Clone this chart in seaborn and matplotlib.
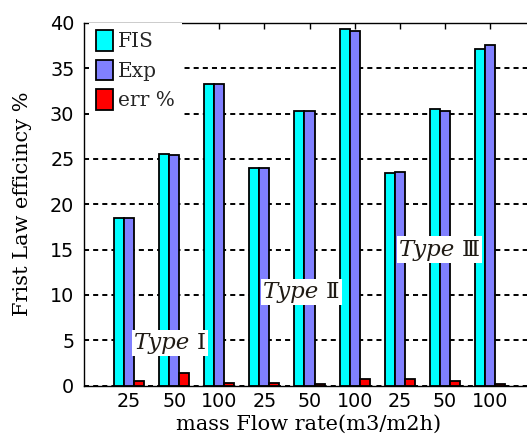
import matplotlib
matplotlib.use("Agg")
import matplotlib.pyplot as plt
import pandas as pd
import seaborn as sns
from matplotlib.offsetbox import TextArea, HPacker, AnnotationBbox

# ---- data -------------------------------------------------------------
collector_types = ["Ⅰ", "Ⅱ", "Ⅲ"]
flow_rates = ["25", "50", "100"]
tick_labels = flow_rates * 3

fis_eff = [18.5, 25.6, 33.3, 24.0, 30.3, 39.3, 23.4, 30.5, 37.1]
exp_eff = [18.5, 25.4, 33.3, 24.0, 30.3, 39.1, 23.6, 30.3, 37.6]
err_pct = [0.45, 1.35, 0.25, 0.25, 0.2, 0.7, 0.7, 0.45, 0.2]

series_names = ["FIS", "Exp", "err %"]
series_colors = ["#00FFFF", "#8080FF", "#FF0000"]

# label anchor for each collector type: (case index, efficiency value)
type_label_pos = [(0.91, 4.7), (3.82, 10.3), (6.88, 15.0)]

cases = [f"{t}-{r}" for t in collector_types for r in flow_rates]
df = pd.DataFrame({
    "case": cases * 3,
    "series": [s for s in series_names for _ in cases],
    "value": fis_eff + exp_eff + err_pct,
})

# ---- figure -----------------------------------------------------------
sns.set_style("white")
plt.rcParams["font.family"] = ["DejaVu Sans"]

W, H = 527, 434
fig = plt.figure(figsize=(W / 100, H / 100), dpi=100)
ax = fig.add_axes([84 / W, 48.5 / H, 451 / W, 362.5 / H])

sns.barplot(data=df, x="case", y="value", hue="series", order=cases,
            hue_order=series_names, palette=series_colors, saturation=1,
            width=0.667, gap=0, edgecolor="black", linewidth=1.3,
            errorbar=None, ax=ax)

ax.set_xlim(-1, 9)
ax.set_ylim(0, 40)
ax.set_yticks(range(0, 41, 5))
ax.set_xticks(range(len(cases)))
ax.set_xticklabels(tick_labels)

ax.set_axisbelow(True)
ax.yaxis.grid(True, color="black", linestyle=(0, (2.6, 2.1)), linewidth=1.4)
ax.xaxis.grid(False)

for sp in ax.spines.values():
    sp.set_color("black")
    sp.set_linewidth(1.0)

ax.tick_params(axis="both", direction="in", top=True, right=True,
               length=4, width=1.0, color="black", labelsize=13.8,
               labelcolor="black")
ax.tick_params(axis="y", pad=7)
ax.tick_params(axis="x", pad=4.5)

ax.set_ylabel("Frist Law efficincy %", family="DejaVu Serif", fontsize=15,
              va="center", color="black")
ax.yaxis.set_label_coords((23 - 84) / 451, 0.5)
ax.set_xlabel("mass Flow rate(m3/m2h)", family="DejaVu Serif", fontsize=15,
              va="baseline", color="black")
ax.xaxis.set_label_coords((308.5 - 84) / 451, (385.5 - 429.5) / 362.5)

# legend in the upper-left corner on a white, borderless box
handles, labels = ax.get_legend_handles_labels()
ax.get_legend().remove()
leg = ax.legend(handles, labels, loc="upper left",
                bbox_to_anchor=(5 / 451, 1), borderaxespad=0,
                frameon=True, facecolor="white", edgecolor="none",
                framealpha=1, fancybox=False,
                prop=dict(family="DejaVu Serif", size=14.5),
                handlelength=0.85, handleheight=1.2, handletextpad=0.25,
                labelspacing=0.42, borderpad=0.35)
for h in leg.legend_handles:
    h.set_edgecolor("black")
    h.set_linewidth(1.3)

# collector type annotations
txt_color = "#1f1a14"
for t, (xpos, ypos) in zip(collector_types, type_label_pos):
    word = TextArea("Type", textprops=dict(family="DejaVu Serif",
                                           style="italic", size=16.5,
                                           color=txt_color))
    num = TextArea(t, textprops=dict(family=["DejaVu Serif", "Noto Sans CJK SC"],
                                     size=16.5, color=txt_color))
    box = HPacker(children=[word, num], align="baseline", pad=0, sep=5)
    ab = AnnotationBbox(box, (xpos, ypos), xycoords="data",
                        box_alignment=(0.5, 0.5), frameon=True, pad=0.15,
                        bboxprops=dict(facecolor="white", edgecolor="none"))
    ab.set_zorder(5)
    ax.add_artist(ab)

fig.savefig("out.png", dpi=100)
